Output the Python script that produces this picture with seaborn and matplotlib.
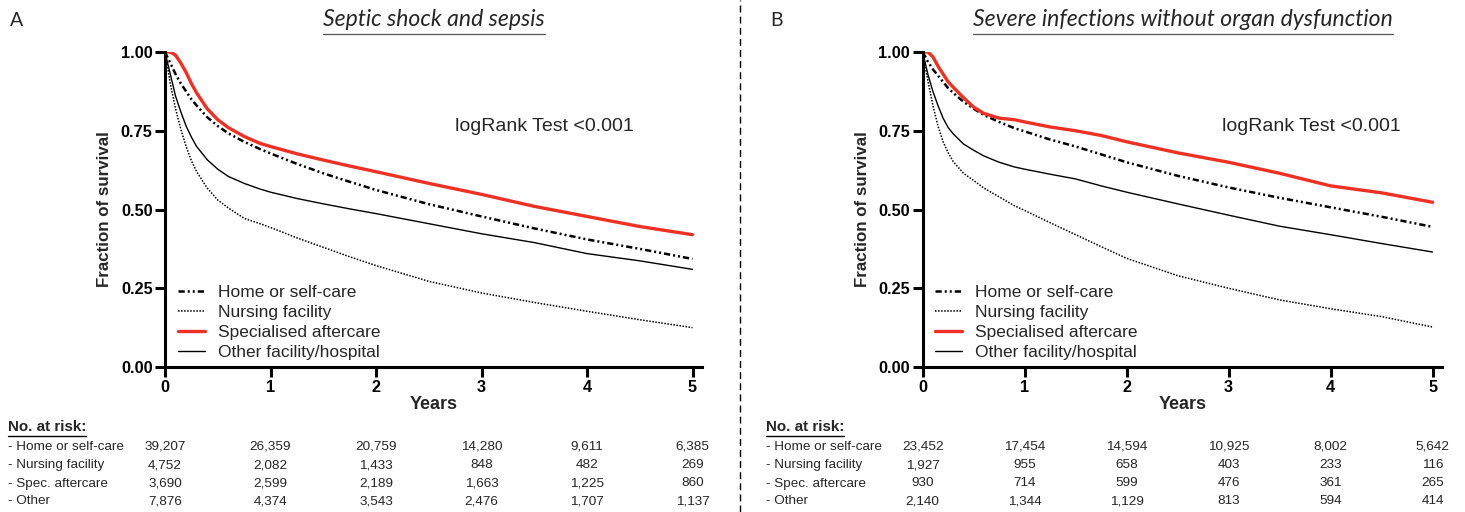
import matplotlib
matplotlib.use("Agg")
import matplotlib.pyplot as plt
import matplotlib.lines as mlines
import matplotlib.transforms as mtransforms
import pandas as pd
import seaborn as sns

# ---- data ----
years = [0, 0.05, 0.1, 0.15, 0.2, 0.25, 0.3, 0.4, 0.5, 0.6, 0.75, 0.9, 1,
         1.25, 1.5, 1.75, 2, 2.5, 3, 3.5, 4, 4.5, 5]
groups = ["Home or self-care", "Nursing facility", "Specialised aftercare", "Other facility/hospital"]

# panel A: septic shock and sepsis
a_home = [1.0, 0.965, 0.93, 0.90, 0.875, 0.85, 0.83, 0.793, 0.765, 0.742, 0.715, 0.692, 0.678,
          0.645, 0.615, 0.588, 0.562, 0.517, 0.478, 0.44, 0.405, 0.375, 0.343]
a_nursing = [1.0, 0.90, 0.82, 0.755, 0.70, 0.655, 0.62, 0.568, 0.53, 0.505, 0.472, 0.455, 0.443,
             0.41, 0.38, 0.35, 0.322, 0.272, 0.235, 0.205, 0.177, 0.15, 0.125]
a_special = [1.0, 1.0, 0.99, 0.965, 0.935, 0.90, 0.87, 0.82, 0.785, 0.76, 0.732, 0.71, 0.70,
             0.677, 0.657, 0.638, 0.62, 0.583, 0.548, 0.51, 0.478, 0.446, 0.42]
a_other = [1.0, 0.93, 0.86, 0.81, 0.765, 0.73, 0.70, 0.658, 0.628, 0.605, 0.583, 0.565, 0.555,
           0.535, 0.518, 0.502, 0.487, 0.455, 0.423, 0.395, 0.36, 0.337, 0.31]

# panel B: severe infections without organ dysfunction
b_home = [1.0, 0.97, 0.945, 0.925, 0.905, 0.885, 0.87, 0.842, 0.82, 0.80, 0.778, 0.758, 0.748,
          0.722, 0.70, 0.675, 0.65, 0.607, 0.57, 0.537, 0.507, 0.477, 0.445]
b_nursing = [1.0, 0.91, 0.83, 0.765, 0.715, 0.68, 0.652, 0.615, 0.592, 0.568, 0.54, 0.512, 0.497,
             0.458, 0.42, 0.382, 0.345, 0.29, 0.25, 0.213, 0.185, 0.16, 0.127]
b_special = [1.0, 1.0, 0.985, 0.955, 0.93, 0.905, 0.888, 0.855, 0.825, 0.805, 0.79, 0.785, 0.778,
             0.762, 0.75, 0.735, 0.715, 0.68, 0.65, 0.615, 0.575, 0.553, 0.523]
b_other = [1.0, 0.93, 0.875, 0.83, 0.79, 0.76, 0.74, 0.708, 0.688, 0.67, 0.65, 0.635, 0.628,
           0.612, 0.597, 0.575, 0.555, 0.518, 0.482, 0.447, 0.42, 0.392, 0.365]

# numbers at risk
risk_years = [0, 1, 2, 3, 4, 5]
risk_labels = ["- Home or self-care", "- Nursing facility", "- Spec. aftercare", "- Other"]
a_risk_home = [39207, 26359, 20759, 14280, 9611, 6385]
a_risk_nursing = [4752, 2082, 1433, 848, 482, 269]
a_risk_special = [3690, 2599, 2189, 1663, 1225, 860]
a_risk_other = [7876, 4374, 3543, 2476, 1707, 1137]
b_risk_home = [23452, 17454, 14594, 10925, 8002, 5642]
b_risk_nursing = [1927, 955, 658, 403, 233, 116]
b_risk_special = [930, 714, 599, 476, 361, 265]
b_risk_other = [2140, 1344, 1129, 813, 594, 414]

# ---- style ----
sns.set_style("ticks")
plt.rcParams["font.family"] = ["Liberation Sans", "DejaVu Sans"]
W, H = 1465, 512

styles = {
    "Home or self-care": dict(color="black", lw=1.8, ls=(0, (2.5, 1.2, 0.8, 1.2, 0.8, 1.2))),
    "Nursing facility": dict(color="black", lw=1.1, ls=(0, (1, 1))),
    "Specialised aftercare": dict(color="#ee3124", lw=2.4, ls="-"),
    "Other facility/hospital": dict(color="black", lw=1.0, ls="-"),
}

fig = plt.figure(figsize=(W / 100, H / 100), dpi=100)


def fx(px):
    return px / W


def fy(py):
    return 1 - py / H


def panel(x0, x1, curves, risks, letter, letter_x, title, title_cx, row_x, lr_x):
    ax = fig.add_axes([fx(x0), fy(367), fx(x1 - x0), 315 / H])
    df = pd.DataFrame({"years": years * 4,
                       "surv": sum(curves, []),
                       "group": [g for g in groups for _ in years]})
    for g in groups:
        st = styles[g]
        sub = df[df["group"] == g]
        sns.lineplot(data=sub, x="years", y="surv", ax=ax, color=st["color"],
                     linewidth=st["lw"], linestyle=st["ls"], label=g,
                     estimator=None, sort=False)
    ax.set_xlim(0, 5.09)
    ax.set_ylim(0, 1)
    ax.set_xticks(risk_years)
    ax.set_yticks([0, 0.25, 0.5, 0.75, 1.0])
    ax.set_yticklabels(["0.00", "0.25", "0.50", "0.75", "1.00"])
    sns.despine(ax=ax)
    for s in ["left", "bottom"]:
        ax.spines[s].set_linewidth(2.2)
        ax.spines[s].set_color("black")
    ax.tick_params(direction="out", length=7.5, width=2.2, pad=1.5,
                   labelsize=11.7, colors="black")
    for lab in ax.get_xticklabels() + ax.get_yticklabels():
        lab.set_fontweight("bold")
    ax.set_xlabel("Years", fontsize=13, fontweight="bold", labelpad=1)
    ax.set_ylabel("Fraction of survival", fontsize=12.2, fontweight="bold", labelpad=6)
    ax.text(lr_x, 0.763, "logRank Test <0.001", fontsize=14, va="center", ha="left")
    ax.legend(loc="upper left", bbox_to_anchor=(0.024, 0.262), frameon=False,
              fontsize=12.5, handlelength=1.55, handletextpad=0.75,
              labelspacing=0.29, borderpad=0, borderaxespad=0)

    # header
    fig.text(fx(letter_x), fy(20), letter, fontsize=14, va="center", ha="left",
             family=["Lato", "DejaVu Sans"])
    t = fig.text(fx(title_cx), fy(20), title, fontsize=16.6, style="italic",
                 va="center", ha="center", family=["Lato", "DejaVu Sans"])

    # number at risk table
    nr = fig.text(fx(row_x), fy(427), "No. at risk:", fontsize=10.9, fontweight="bold",
                  va="center", ha="left")
    trans = mtransforms.blended_transform_factory(ax.transData, fig.transFigure)
    row_y = [446.5, 465, 483.5, 501.5]
    for lab, vals, yy in zip(risk_labels, risks, row_y):
        fig.text(fx(row_x), fy(yy), lab, fontsize=9.7, va="center", ha="left")
        for xv, v in zip(risk_years, vals):
            ax.text(xv, fy(yy), f"{v:,}", transform=trans, fontsize=9.7,
                    va="center", ha="center")
    return t, nr


tA, nA = panel(165, 702, [a_home, a_nursing, a_special, a_other],
               [a_risk_home, a_risk_nursing, a_risk_special, a_risk_other],
               "A", 10, "Septic shock and sepsis", 434, 8, 2.75)
tB, nB = panel(922.7, 1441.7, [b_home, b_nursing, b_special, b_other],
               [b_risk_home, b_risk_nursing, b_risk_special, b_risk_other],
               "B", 770, "Severe infections without organ dysfunction", 1183, 766, 2.94)

# dashed separator between panels
fig.add_artist(mlines.Line2D([fx(740), fx(740)], [0, 1], color="black", lw=1.0,
                             ls=(0, (5, 3)), transform=fig.transFigure))

# underlines for titles and "No. at risk:"
fig.canvas.draw()
renderer = fig.canvas.get_renderer()
inv = fig.transFigure.inverted()
for txt, off, lw, col in [(tA, 3, 0.9, "#555555"), (tB, 3, 0.9, "#555555"),
                          (nA, 2, 1.0, "black"), (nB, 2, 1.0, "black")]:
    bb = txt.get_window_extent(renderer)
    (xa, ya), (xb, _) = inv.transform([(bb.x0, bb.y0 - off), (bb.x1, bb.y0)])
    fig.add_artist(mlines.Line2D([xa, xb], [ya, ya], color=col, lw=lw,
                                 transform=fig.transFigure))

fig.savefig("out.png", dpi=100)
plt.close()
